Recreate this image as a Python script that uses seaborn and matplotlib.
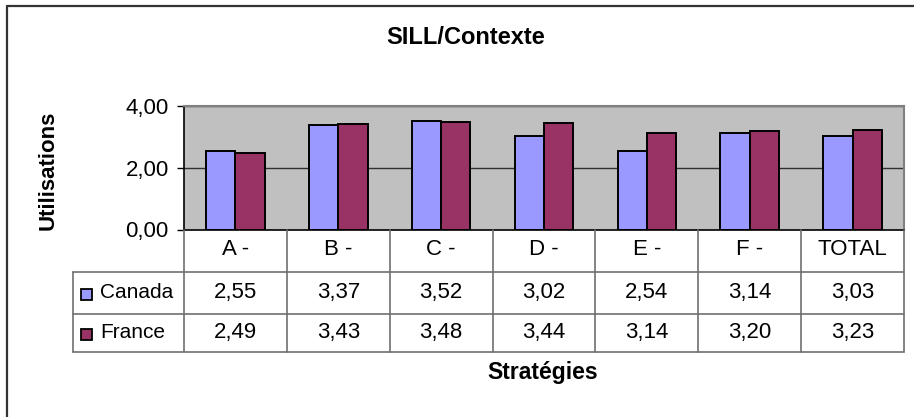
import numpy as np
import pandas as pd
import matplotlib
matplotlib.use("Agg")
import matplotlib.pyplot as plt
import seaborn as sns
from matplotlib.patches import Rectangle
from matplotlib.lines import Line2D
from matplotlib.transforms import blended_transform_factory

# ---- data ----
categories = ["A -", "B -", "C -", "D -", "E -", "F -", "TOTAL"]
canada = [2.55, 3.37, 3.52, 3.02, 2.54, 3.14, 3.03]
france = [2.49, 3.43, 3.48, 3.44, 3.14, 3.20, 3.23]
series = ["Canada", "France"]
colors = ["#9999FF", "#993366"]
yticks = [0, 2, 4]
title = "SILL/Contexte"
xlabel = "Stratégies"
ylabel = "Utilisations"

sns.set_theme(style="white")
plt.rcParams['font.family'] = ['Liberation Sans', 'DejaVu Sans']

W, H = 914, 417
fig = plt.figure(figsize=(W / 100, H / 100), dpi=100)


def fx(px):
    return px / W


def fy(py):
    return 1 - py / H


FS = 16      # regular text
FSB = 16.5   # bold labels

# plot area
L, R, T, B = 184, 904, 106, 229.5
ax = fig.add_axes([fx(L), fy(B), fx(R) - fx(L), fy(T) - fy(B)])
ax.set_facecolor("#C0C0C0")

df = pd.DataFrame({
    "Stratégie": categories * 2,
    "Valeur": canada + france,
    "Pays": [series[0]] * len(categories) + [series[1]] * len(categories),
})
sns.barplot(data=df, x="Stratégie", y="Valeur", hue="Pays", palette=colors,
            width=0.57, edgecolor="black", linewidth=1.4, saturation=1,
            ax=ax, legend=False, zorder=2)

ax.set_ylim(0, 4)
ax.set_xlim(-0.5, len(categories) - 0.5)
for v in yticks[1:]:
    ax.axhline(v, color="#303030", lw=1, zorder=1)
ax.set_yticks(yticks)
ax.set_yticklabels([f"{v:.2f}".replace(".", ",") for v in yticks])
ax.tick_params(axis="y", direction="out", length=5, width=1, color="black",
               labelsize=FS, pad=6, left=True)
ax.tick_params(axis="x", length=0, labelsize=FS, pad=14.5)
for lab in ax.get_xticklabels():
    lab.set_va("center")
for lab in ax.get_yticklabels():
    lab.set_color("black")
for lab in ax.get_xticklabels():
    lab.set_color("black")

for s in ["left", "bottom"]:
    ax.spines[s].set_color("black")
    ax.spines[s].set_linewidth(1.2)
for s in ["top", "right"]:
    ax.spines[s].set_color("#808080")
    ax.spines[s].set_linewidth(1.5)

ax.set_xlabel(xlabel, fontsize=FSB, fontweight="bold", color="black")
ax.xaxis.set_label_coords((543 - L) / (R - L), (B - 373) / (B - T))
ax.xaxis.label.set_va("center")
ax.set_ylabel(ylabel, fontsize=FSB - 0.5, fontweight="bold", color="black")
ax.yaxis.label.set_rotation_mode("default")
ax.yaxis.label.set_va("center")
ax.yaxis.set_label_coords((48 - L) / (R - L), (B - 170) / (B - T))

# ---- data table ----
trans = blended_transform_factory(ax.transData, fig.transFigure)
line_kw = dict(color="#707070", lw=1.2, clip_on=False)
r_head, r1, r2 = 271.7, 314, 351.7
for i in range(len(categories) + 1):
    fig.add_artist(Line2D([i - 0.5, i - 0.5], [fy(B), fy(r2)], transform=trans, **line_kw))
for yy in [r_head, r1, r2]:
    fig.add_artist(Line2D([fx(73), fx(R)], [fy(yy), fy(yy)], transform=fig.transFigure, **line_kw))
fig.add_artist(Line2D([fx(73), fx(73)], [fy(r_head), fy(r2)], transform=fig.transFigure, **line_kw))

rows_y = [(r_head + r1) / 2, (r1 + r2) / 2]
for vals, yy, name, col in zip([canada, france], rows_y, series, colors):
    for i, v in enumerate(vals):
        fig.text(i, fy(yy), f"{v:.2f}".replace(".", ","), transform=trans,
                 ha="center", va="center", fontsize=FS, color="black")
    fig.add_artist(Rectangle((fx(81), fy(yy + 7.5)), fx(11), 11 / H,
                             transform=fig.transFigure, facecolor=col,
                             edgecolor="black", lw=1.3))
    fig.text(fx(100), fy(yy), name, ha="left", va="center", fontsize=FS - 1,
             color="black")

# ---- title & frame ----
fig.text(fx(466), fy(37), title, ha="center", va="center", fontsize=FSB + 0.5,
         fontweight="bold", color="black")
fig.add_artist(Line2D([fx(7), fx(W + 5)], [fy(6), fy(6)], transform=fig.transFigure,
                      color="#333333", lw=1.6))
fig.add_artist(Line2D([fx(7), fx(7)], [fy(6), fy(H + 5)], transform=fig.transFigure,
                      color="#333333", lw=1.6))

fig.savefig("out.png", dpi=100, facecolor="white")
